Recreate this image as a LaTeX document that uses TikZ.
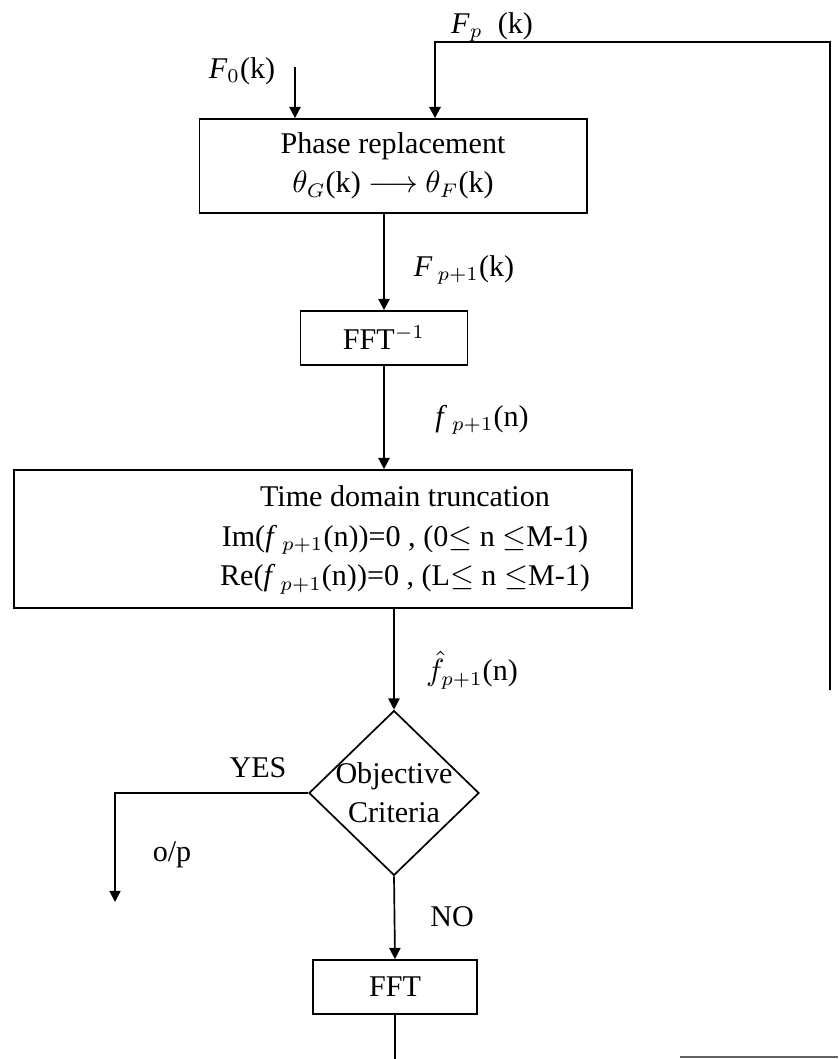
\documentclass[tikz,border=0pt]{standalone}
\usepackage{fontspec}
\setmainfont{Liberation Serif}
\usetikzlibrary{positioning, arrows.meta, shapes.geometric, calc}

\begin{document}
\begin{tikzpicture}[
    x=0.0125cm, y=-0.0125cm,
    font=\fontsize{10.7}{14}\selectfont,
    procbox/.style={draw, rectangle, line width=0.6pt, align=center, inner sep=0pt},
    decision/.style={draw, diamond, line width=0.6pt, minimum width=2.125cm, minimum height=2.06cm, inner sep=0pt},
    lbl/.style={inner sep=1pt},
    arr/.style={-{Triangle[width=4pt,length=4pt]}, line width=0.6pt}
]
    \useasboundingbox (0,0) rectangle (838,1059);

    \node[procbox, minimum width=4.84cm, minimum height=1.175cm] (phase) at (393,166) {Phase replacement\\$\theta_G$(k) $\longrightarrow$ $\theta_F$(k)};
    \node[procbox, minimum width=2.09cm, minimum height=0.675cm] (finv) at (384,338) {FFT$^{-1}$};
    \node[procbox, minimum width=7.725cm, minimum height=1.725cm] (trunc) at (323,539) {};
    \node[align=center, inner sep=0pt] (trunctxt) at (405,540) {Time domain truncation\\Im(\textit{f}\,$_{p+1}$(n))=0 , (0$\leq$ n $\leq$M-1)\\Re(\textit{f}\,$_{p+1}$(n))=0 , (L$\leq$ n $\leq$M-1)};
    \node[decision] (obj) at (394,793) {};
    \node[align=center, inner sep=0pt] (objtxt) at (obj.center) {Objective\\Criteria};
    \node[procbox, minimum width=2.05cm, minimum height=0.675cm] (fft) at (395,987) {FFT};

    % inputs
    \coordinate (fin) at (295,67);
    \coordinate (fbtop) at (435,42);
    \coordinate (fbend) at (830,690);
    \node[lbl] (f0) at (242,71) {\textit{F}$_{0}$(k)};
    \node[lbl] (fp) at (492,27) {\textit{F}$_{p}$\ \ (k)};
    \draw[arr] (fin) -- (fin |- phase.north);
    \draw[arr, line width=0.9pt] (fbend) |- (fbtop) -- (fbtop |- phase.north);

    % main chain
    \draw[arr] (finv.north |- phase.south) -- (finv.north);
    \node[lbl] (fk) at (464,270) {\textit{F}\,$_{p+1}$(k)};
    \draw[arr] (finv.south) -- (finv.south |- trunc.north);
    \node[lbl] (fn) at (482,420) {\textit{f}\,$_{p+1}$(n)};
    \draw[arr] (obj.north |- trunc.south) -- (obj.north);
    \node[lbl] (fhat) at (472,670) {$\hat{f}_{p+1}$(n)};

    % decision
    \coordinate (opend) at (115,902);
    \draw[arr] (obj.west) -| (opend);
    \node[lbl] (yes) at (258,768) {YES};
    \node[lbl] (op) at (172,855) {o/p};
    \draw[arr] (obj.south) -- (fft.north);
    \node[lbl] (no) at (452,917) {NO};

    % loop back
    \coordinate (bot) at (395,1059);
    \draw[line width=0.6pt] (fft.south) -- (bot);
    \coordinate (loopa) at (680,1057);
    \coordinate (loopb) at (838,1057);
    \draw[line width=0.4pt, black!60] (loopa) -- (loopb);
\end{tikzpicture}
\end{document}
